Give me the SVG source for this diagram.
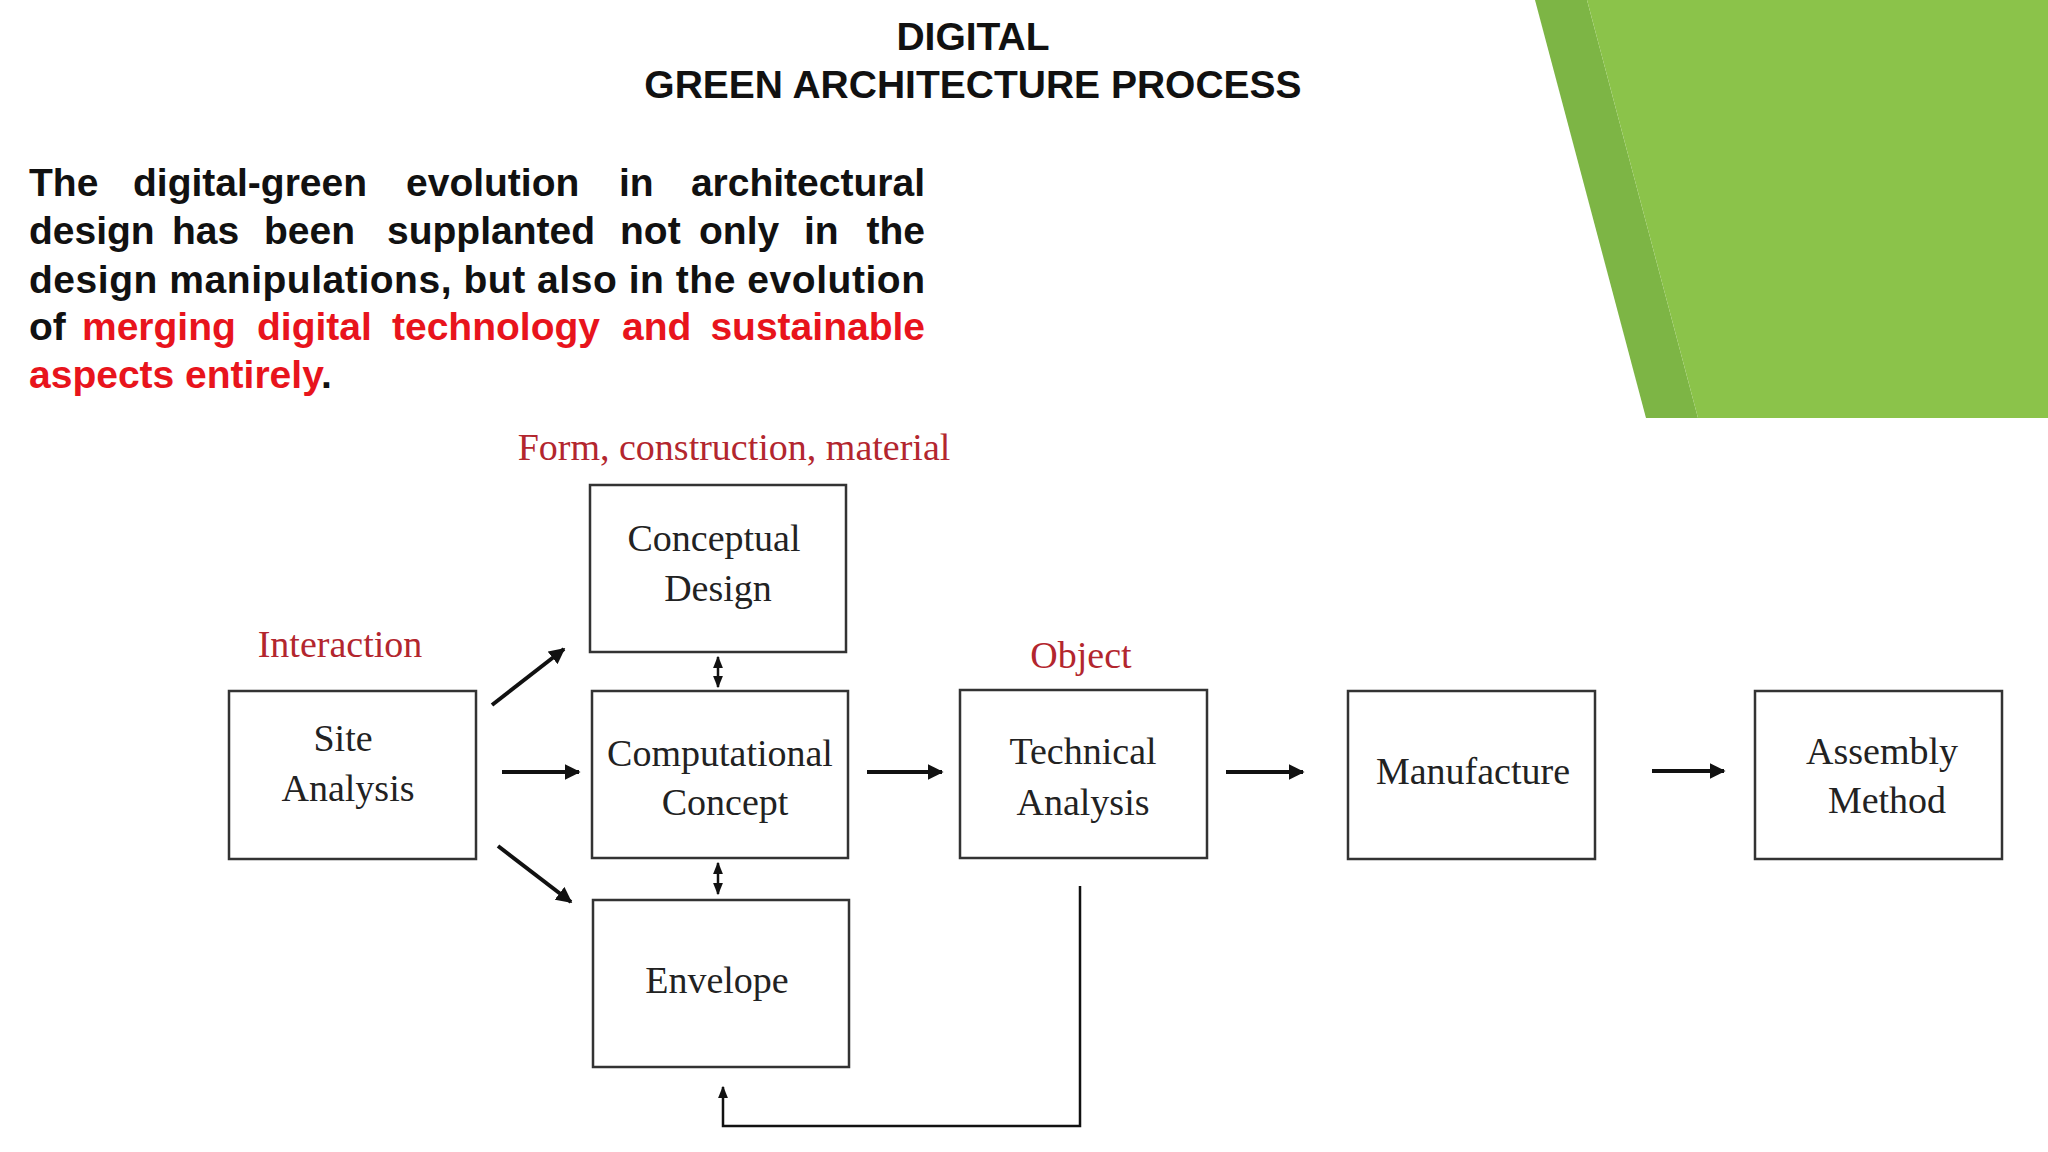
<svg xmlns="http://www.w3.org/2000/svg" width="2048" height="1152" viewBox="0 0 2048 1152">
<defs>
<style>
.h{font-family:"Liberation Sans",Arial,sans-serif;font-weight:bold;font-size:39px;fill:#111}
.p{font-family:"Liberation Sans",Arial,sans-serif;font-weight:bold;font-size:39px;fill:#111}
.e{text-anchor:end}
.r{fill:#e8141c}
.lab{font-family:"Liberation Serif","Times New Roman",serif;font-size:38px;fill:#b3262e;text-anchor:middle}
.t{font-family:"Liberation Serif","Times New Roman",serif;font-size:38px;fill:#222;text-anchor:middle}
.box{fill:#fff;stroke:#333;stroke-width:2.5}
.c{stroke:#111;stroke-width:4;fill:none}
.s{stroke:#111;stroke-width:2.5;fill:none}
</style>
<marker id="a" viewBox="0 0 10 10" refX="9" refY="5" markerWidth="4" markerHeight="4" orient="auto-start-reverse"><path d="M0,0L10,5L0,10z" fill="#111"/></marker>
<marker id="b" viewBox="0 0 10 10" refX="9" refY="5" markerWidth="5" markerHeight="5" orient="auto-start-reverse"><path d="M0,1L10,5L0,9z" fill="#111"/></marker>
</defs>
<rect width="2048" height="1152" fill="#fff"/>
<polygon points="1535,0 1587,0 1698,418 1646,418" fill="#7db545"/>
<polygon points="1587,0 2048,0 2048,418 1698,418" fill="#8bc34a"/>
<text class="h" x="973" y="50" text-anchor="middle">DIGITAL</text>
<text class="h" x="973" y="98" text-anchor="middle">GREEN ARCHITECTURE PROCESS</text>
<g class="p">
<text x="29" y="196">The</text><text x="133" y="196">digital-green</text><text x="406" y="196">evolution</text><text x="619" y="196">in</text><text class="e" x="925" y="196">architectural</text>
<text x="29" y="244">design</text><text x="172" y="244">has</text><text x="264" y="244">been</text><text x="387" y="244">supplanted</text><text x="620" y="244">not</text><text x="699" y="244">only</text><text x="804" y="244">in</text><text class="e" x="925" y="244">the</text>
<text x="29" y="293" textLength="896" lengthAdjust="spacing">design manipulations, but also in the evolution</text>
<text x="29" y="340">of</text>
<g class="r"><text x="82" y="340">merging</text><text x="257" y="340">digital</text><text x="392" y="340">technology</text><text x="622" y="340">and</text><text class="e" x="925" y="340">sustainable</text></g>
<text x="29" y="388"><tspan class="r">aspects entirely</tspan>.</text>
</g>
<text class="lab" x="734" y="460">Form, construction, material</text>
<text class="lab" x="340" y="657">Interaction</text>
<text class="lab" x="1081" y="668">Object</text>
<g id="conceptual"><rect class="box" x="590" y="485" width="256" height="167"/><text class="t" x="714" y="551">Conceptual</text><text class="t" x="718" y="601">Design</text></g>
<g id="site"><rect class="box" x="229" y="691" width="247" height="168"/><text class="t" x="343" y="751">Site</text><text class="t" x="348" y="801">Analysis</text></g>
<g id="computational"><rect class="box" x="592" y="691" width="256" height="167"/><text class="t" x="720" y="766">Computational</text><text class="t" x="725" y="815">Concept</text></g>
<g id="envelope"><rect class="box" x="593" y="900" width="256" height="167"/><text class="t" x="717" y="993">Envelope</text></g>
<g id="technical"><rect class="box" x="960" y="690" width="247" height="168"/><text class="t" x="1083" y="764">Technical</text><text class="t" x="1083" y="815">Analysis</text></g>
<g id="manufacture"><rect class="box" x="1348" y="691" width="247" height="168"/><text class="t" x="1473" y="784">Manufacture</text></g>
<g id="assembly"><rect class="box" x="1755" y="691" width="247" height="168"/><text class="t" x="1882" y="764">Assembly</text><text class="t" x="1887" y="813">Method</text></g>
<g id="connectors">
<line class="c" x1="492" y1="705" x2="564" y2="649" marker-end="url(#a)"/>
<line class="c" x1="502" y1="772" x2="579" y2="772" marker-end="url(#a)"/>
<line class="c" x1="498" y1="846" x2="571" y2="902" marker-end="url(#a)"/>
<line class="c" x1="867" y1="772" x2="942" y2="772" marker-end="url(#a)"/>
<line class="c" x1="1226" y1="772" x2="1303" y2="772" marker-end="url(#a)"/>
<line class="c" x1="1652" y1="771" x2="1724" y2="771" marker-end="url(#a)"/>
<line class="s" x1="718" y1="657" x2="718" y2="687" marker-start="url(#b)" marker-end="url(#b)"/>
<line class="s" x1="718" y1="863" x2="718" y2="894" marker-start="url(#b)" marker-end="url(#b)"/>
<polyline class="s" points="1080,886 1080,1126 723,1126 723,1087" marker-end="url(#b)"/>
</g>
</svg>
